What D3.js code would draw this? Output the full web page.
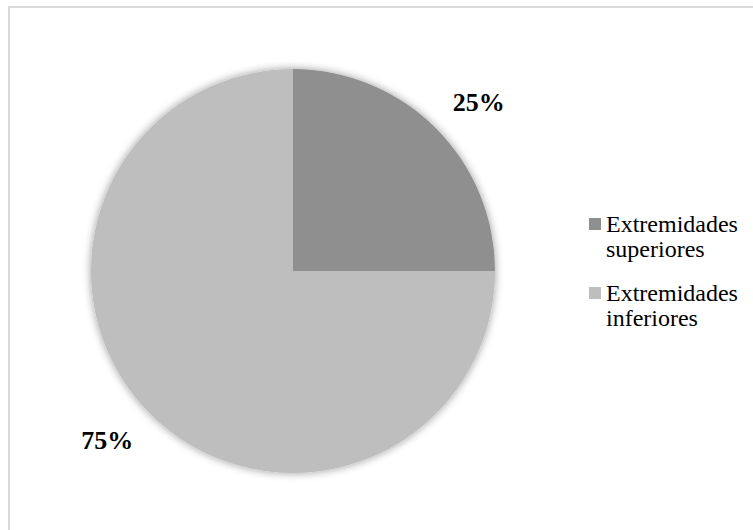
<!DOCTYPE html>
<html>
<head>
<meta charset="utf-8">
<script src="https://cdn.jsdelivr.net/npm/d3@7"></script>
<style>
  body { margin: 0; background: #fff; }
  svg { display: block; }
</style>
</head>
<body>
<div class="PieChart"></div>
<script>
// datos del gráfico
const categories = ["Extremidades superiores", "Extremidades inferiores"];
const legendLines = [["Extremidades", "superiores"], ["Extremidades", "inferiores"]];
const values = [25, 75];
const colorsList = ["#8f8f8f", "#bebebe"];

const W = 753, H = 530;
const cx = 293, cy = 271, R = 202;

let svg = d3.select(".PieChart")
    .append("svg")
    .attr("width", W)
    .attr("height", H);

// marco del área del gráfico (cortado a la derecha y abajo)
svg.append("rect")
    .attr("x", 9)
    .attr("y", 7)
    .attr("width", 900)
    .attr("height", 700)
    .attr("fill", "#fff")
    .attr("stroke", "#d9d9d9")
    .attr("stroke-width", 2);

// sombra suave alrededor del pastel
let defs = svg.append("defs");
let f = defs.append("filter")
    .attr("id", "glow")
    .attr("x", "-20%").attr("y", "-20%")
    .attr("width", "140%").attr("height", "140%");
f.append("feGaussianBlur").attr("in", "SourceAlpha").attr("stdDeviation", 4).attr("result", "b");
f.append("feFlood").attr("flood-color", "#000").attr("flood-opacity", 0.4);
f.append("feComposite").attr("in2", "b").attr("operator", "in").attr("result", "s");
let m = f.append("feMerge");
m.append("feMergeNode").attr("in", "s");
m.append("feMergeNode").attr("in", "SourceGraphic");

let color = d3.scaleOrdinal().domain(categories).range(colorsList);

let pie = d3.pie()
    .value(d => d.value)
    .sort(null);

let data = categories.map((c, i) => ({name: c, value: values[i]}));
let pie_data = pie(data);
let total = d3.sum(values);

let arc = d3.arc().innerRadius(0).outerRadius(R);
// etiquetas fuera del pastel, un poco giradas como en Excel
let labelPos = function (d) {
    let a = (d.startAngle + d.endAngle) / 2 + 0.047;
    let r = 251;
    return [r * Math.sin(a), -r * Math.cos(a)];
};

let g = svg.append("g")
    .attr("transform", "translate(" + cx + "," + cy + ")");

g.append("g")
    .attr("filter", "url(#glow)")
    .selectAll("path")
    .data(pie_data)
    .enter()
    .append("path")
    .attr("d", arc)
    .attr("fill", d => color(d.data.name));

g.selectAll("text.lbl")
    .data(pie_data)
    .enter()
    .append("text")
    .attr("class", "lbl")
    .attr("transform", d => "translate(" + labelPos(d) + ")")
    .attr("text-anchor", "middle")
    .attr("dy", "0.35em")
    .attr("font-family", "'Liberation Serif', 'Times New Roman', serif")
    .attr("font-weight", "bold")
    .attr("font-size", 26)
    .attr("fill", "#000")
    .text(d => Math.round(d.data.value / total * 100) + "%");

// leyenda
let legend = svg.append("g")
    .selectAll("g")
    .data(categories)
    .enter()
    .append("g")
    .attr("transform", (d, i) => "translate(589," + (218 + i * 69) + ")");

legend.append("rect")
    .attr("width", 12)
    .attr("height", 12)
    .attr("fill", d => color(d));

legend.append("text")
    .attr("x", 17)
    .attr("y", 14)
    .attr("font-family", "'Liberation Serif', 'Times New Roman', serif")
    .attr("font-size", 24)
    .attr("fill", "#000")
    .selectAll("tspan")
    .data((d, i) => legendLines[i])
    .enter()
    .append("tspan")
    .attr("x", 17)
    .attr("dy", (d, i) => i === 0 ? 0 : 25)
    .text(d => d);
</script>
</body>
</html>
